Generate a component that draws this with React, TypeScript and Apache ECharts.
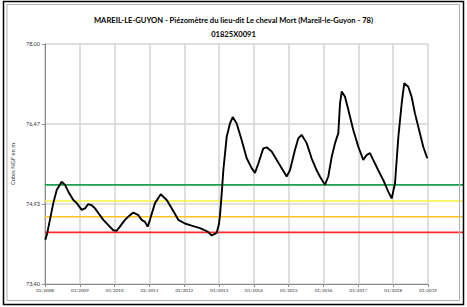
import React, { useEffect, useRef } from "react";
import * as echarts from "echarts";

// Piezometer level (m NGF)
const dates: string[] = [
  "2008-01-05", "2008-01-24", "2008-03-28", "2008-05-03", "2008-06-24", "2008-07-29",
  "2008-09-02", "2008-10-24", "2008-11-29", "2009-01-20", "2009-02-24", "2009-03-30",
  "2009-05-05", "2009-06-09", "2009-07-13", "2009-09-04", "2009-10-26", "2009-12-17",
  "2010-01-22", "2010-02-25", "2010-04-19", "2010-06-10", "2010-07-15", "2010-09-06",
  "2010-10-11", "2010-11-15", "2010-12-13", "2011-01-06", "2011-02-28", "2011-04-29",
  "2011-07-01", "2011-09-08", "2011-10-30", "2012-01-08", "2012-03-01", "2012-04-22",
  "2012-06-14", "2012-08-05", "2012-09-06", "2012-10-14", "2012-12-06", "2012-12-30",
  "2013-01-10", "2013-01-28", "2013-02-14", "2013-03-21", "2013-04-25", "2013-05-23",
  "2013-07-03", "2013-08-25", "2013-10-17", "2013-12-08", "2014-01-12", "2014-02-16",
  "2014-04-09", "2014-05-15", "2014-07-06", "2014-08-27", "2014-10-19", "2014-12-10",
  "2015-01-14", "2015-03-07", "2015-04-11", "2015-05-16", "2015-07-08", "2015-08-29",
  "2015-10-21", "2015-11-24", "2016-01-16", "2016-02-20", "2016-03-27", "2016-05-01",
  "2016-06-04", "2016-06-22", "2016-07-10", "2016-08-13", "2016-09-17", "2016-11-08",
  "2016-12-31", "2017-02-21", "2017-03-28", "2017-05-02", "2017-06-05", "2017-07-28",
  "2017-09-19", "2017-11-10", "2017-12-16", "2018-01-20", "2018-02-24", "2018-03-31",
  "2018-04-27", "2018-06-08", "2018-07-13", "2018-08-17", "2018-10-08", "2018-11-12",
  "2018-12-24",
];
const levels: number[] = [
  74.25, 74.37, 74.95, 75.2, 75.36, 75.3,
  75.17, 75.01, 74.95, 74.82, 74.85, 74.93,
  74.91, 74.85, 74.76, 74.63, 74.53, 74.43,
  74.42, 74.5, 74.63, 74.72, 74.77, 74.72,
  74.63, 74.59, 74.5, 74.63, 74.95, 75.12,
  75.01, 74.8, 74.63, 74.56, 74.53, 74.5,
  74.47, 74.43, 74.4, 74.33, 74.38, 74.55,
  74.72, 75.14, 75.58, 76.22, 76.48, 76.6,
  76.48, 76.16, 75.81, 75.62, 75.53, 75.71,
  76.0, 76.02, 75.94, 75.78, 75.62, 75.46,
  75.58, 75.97, 76.19, 76.26, 76.1, 75.81,
  75.58, 75.46, 75.3, 75.46, 75.84, 76.1,
  76.29, 76.86, 77.09, 76.99, 76.74, 76.35,
  76.03, 75.78, 75.87, 75.91, 75.78, 75.58,
  75.39, 75.17, 75.04, 75.33, 76.22, 76.86,
  77.25, 77.18, 76.99, 76.67, 76.29, 76.03,
  75.81,
];

// Threshold levels
const thresholdNames: string[] = ["vert", "jaune", "orange", "rouge"];
const thresholdValues: number[] = [75.3, 74.99, 74.69, 74.39];
const thresholdColors: string[] = ["#1aa04f", "#f7f23a", "#ffc320", "#ff2a2a"];

const yMin = 73.4;
const yMax = 78.0;
const xMin = "2008-01-01";
const xMax = "2019-01-01";
const title = "MAREIL-LE-GUYON - Piézomètre du lieu-dit Le cheval Mort (Mareil-le-Guyon - 78)";
const subtitle = "01825X0091";
const yName = "Cotes NGF en m";

const FONT = "Lato, 'Liberation Sans', sans-serif";

export default function App() {
  const ref = useRef<HTMLDivElement>(null);
  useEffect(() => {
    if (!ref.current) return;
    const chart = echarts.init(ref.current, null, { renderer: "svg" });
    const yearMs = 365 * 24 * 3600 * 1000;
    const thresholdSeries = thresholdValues.map((v, i) => ({
      name: thresholdNames[i],
      type: "line",
      xAxisIndex: 1,
      yAxisIndex: 1,
      symbol: "none",
      silent: true,
      data: [
        [0, v],
        [1, v],
      ],
      lineStyle: { color: thresholdColors[i], width: 1.6 },
      z: 2,
    }));
    chart.setOption({
      animation: false,
      backgroundColor: "#ffffff",
      title: {
        text: title + "\n" + subtitle,
        left: "center",
        top: 8,
        textStyle: {
          fontFamily: FONT,
          fontSize: 7.6,
          fontWeight: "bold",
          color: "#000",
          lineHeight: 14,
        },
      },
      graphic: [
        {
          type: "rect",
          shape: { x: 3.5, y: 1.5, width: 460, height: 303 },
          style: { fill: "none", stroke: "#000", lineWidth: 1.5 },
          silent: true,
          z: 100,
        },
        {
          type: "rect",
          shape: { x: 7, y: 4.5, width: 452.5, height: 296 },
          style: { fill: "none", stroke: "#b0b0b0", lineWidth: 1 },
          silent: true,
          z: 100,
        },
      ],
      grid: [
        { left: 45, right: 39, top: 44, bottom: 23 },
        { left: 45, right: 4, top: 44, bottom: 23 },
      ],
      xAxis: [
        {
          type: "time",
          gridIndex: 0,
          min: xMin,
          max: xMax,
          minInterval: yearMs,
          maxInterval: yearMs + 24 * 3600 * 1000,
          axisLine: { show: true, lineStyle: { color: "#8c8c8c", width: 1 } },
          axisTick: { show: true, length: 3, lineStyle: { color: "#8c8c8c" } },
          splitLine: { show: true, lineStyle: { color: "#d4d4d4", width: 1.5 } },
          axisLabel: {
            fontFamily: FONT,
            fontSize: 4.5,
            color: "#333",
            margin: 4,
            hideOverlap: false,
            showMinLabel: true,
            showMaxLabel: true,
            formatter: (val: number) => {
              const d = new Date(val);
              return "01/" + d.getFullYear();
            },
          },
        },
        {
          type: "value",
          gridIndex: 1,
          min: 0,
          max: 1,
          show: false,
        },
      ],
      yAxis: [
        {
          type: "value",
          gridIndex: 0,
          min: yMin,
          max: yMax,
          interval: (yMax - yMin) / 3,
          name: yName,
          nameLocation: "middle",
          nameGap: 19,
          nameTextStyle: { fontFamily: FONT, fontSize: 5.8, color: "#333" },
          axisLine: { show: true, lineStyle: { color: "#8c8c8c", width: 1 } },
          axisTick: { show: true, length: 3, lineStyle: { color: "#8c8c8c" } },
          splitLine: { show: true, lineStyle: { color: "#d4d4d4", width: 1.5 } },
          axisLabel: {
            fontFamily: FONT,
            fontSize: 5.5,
            color: "#333",
            margin: 5,
            formatter: (v: number) => v.toFixed(2).replace(".", ","),
          },
        },
        {
          type: "value",
          gridIndex: 1,
          min: yMin,
          max: yMax,
          show: false,
        },
      ],
      series: [
        ...thresholdSeries,
        {
          name: "Niveau",
          type: "line",
          xAxisIndex: 0,
          yAxisIndex: 0,
          symbol: "none",
          data: dates.map((d, i) => [d, levels[i]]),
          lineStyle: { color: "#000", width: 1.9 },
          z: 5,
        },
      ],
    });
    return () => chart.dispose();
  }, []);
  return (
    <div
      ref={ref}
      style={{ position: "fixed", left: 0, top: 0, width: 467, height: 307, background: "#fff" }}
    />
  );
}
